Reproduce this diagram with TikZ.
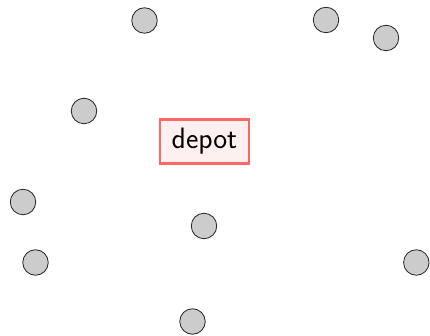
\documentclass[tikz,border=0pt]{standalone}
\begin{document}
\begin{tikzpicture}[x=1pt,y=-1pt,
  cust/.style={circle,draw=black!85,line width=0.8pt,fill=black!20,minimum size=25.5pt,inner sep=0pt},
  depotbox/.style={draw={rgb,255:red,255;green,102;blue,102},line width=2.2pt,fill={rgb,255:red,255;green,240;blue,240},minimum width=89pt,minimum height=44pt,inner sep=0pt,font=\sffamily\fontsize{29.5}{32}\selectfont}]
\useasboundingbox (0,0) rectangle (430,336);
\node[depotbox] (depot) at (204.5,141.5) {depot};
\node[cust] (c1) at (144.5,20.5) {};
\node[cust] (c2) at (326,20) {};
\node[cust] (c3) at (386,38) {};
\node[cust] (c4) at (84,111) {};
\node[cust] (c5) at (23,202) {};
\node[cust] (c6) at (204,226) {};
\node[cust] (c7) at (35.5,262.5) {};
\node[cust] (c8) at (416.3,262.5) {};
\node[cust] (c9) at (192.5,321.5) {};
\end{tikzpicture}
\end{document}
